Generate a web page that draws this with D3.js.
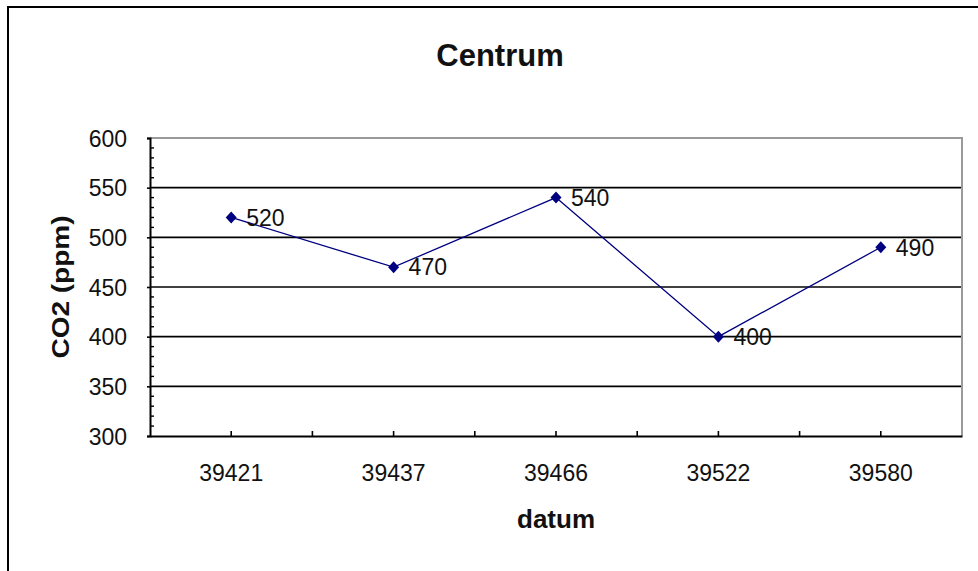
<!DOCTYPE html>
<html>
<head>
<meta charset="utf-8">
<script src="https://cdn.jsdelivr.net/npm/d3@7"></script>
<style>
  html, body { margin: 0; padding: 0; background: #fff; }
  svg { display: block; }
  text { font-family: "Liberation Sans", Arial, sans-serif; fill: #111; }
</style>
</head>
<body>
<svg id="chart" width="978" height="571"></svg>
<script>
// Measurement dates (Excel serial day numbers) and CO2 readings
const categories = ["39421", "39437", "39466", "39522", "39580"];
const co2Values = [520, 470, 540, 400, 490];
const yTicks = [300, 350, 400, 450, 500, 550, 600];

const svg = d3.select("#chart");
const W = 978, H = 571;
const plot = { left: 150, right: 962, top: 138, bottom: 436 };

// Outer chart frame (runs past the right and bottom edges)
svg.append("rect")
  .attr("x", 8).attr("y", 7)
  .attr("width", 1100).attr("height", 700)
  .attr("fill", "#fff")
  .attr("stroke", "#000").attr("stroke-width", 2);

const x = d3.scaleBand().domain(categories).range([plot.left, plot.right]).padding(0);
const y = d3.scaleLinear().domain([300, 600]).range([plot.bottom, plot.top]);

// Horizontal gridlines
svg.append("g").selectAll("line")
  .data(yTicks.filter(v => v > 300 && v < 600))
  .join("line")
  .attr("x1", plot.left).attr("x2", plot.right)
  .attr("y1", d => y(d)).attr("y2", d => y(d))
  .attr("stroke", "#000").attr("stroke-width", 1.6);

// Plot area border: grey top and right edges
svg.append("path")
  .attr("d", `M${plot.left},${y(600)}H${plot.right}V${plot.bottom}`)
  .attr("fill", "none").attr("stroke", "#9a9a9a").attr("stroke-width", 2);

// Y axis: major ticks outward, labels on the left
const yAxis = d3.axisLeft(y).tickValues(yTicks).tickSize(3).tickPadding(20).tickFormat(d3.format("d"));
const gy = svg.append("g").attr("transform", `translate(${plot.left},0)`).call(yAxis);
gy.select(".domain").attr("stroke", "#000").attr("stroke-width", 2);
gy.selectAll(".tick line").attr("stroke", "#000").attr("stroke-width", 1.6);
gy.selectAll(".tick text")
  .attr("font-family", "Liberation Sans, Arial, sans-serif")
  .attr("font-size", 23).attr("fill", "#111")
  .attr("dy", "0.36em");

// Y axis minor ticks (inside) every 10 units
const minor = d3.range(310, 600, 10).filter(v => v % 50 !== 0);
svg.append("g").selectAll("line")
  .data(minor)
  .join("line")
  .attr("x1", plot.left).attr("x2", plot.left + 4)
  .attr("y1", d => y(d)).attr("y2", d => y(d))
  .attr("stroke", "#000").attr("stroke-width", 1.4);

// X axis
const xAxis = d3.axisBottom(x).tickSize(0).tickPadding(0);
const gx = svg.append("g").attr("transform", `translate(0,${plot.bottom})`).call(xAxis);
gx.select(".domain").attr("stroke", "#000").attr("stroke-width", 2);
gx.selectAll(".tick text")
  .attr("font-family", "Liberation Sans, Arial, sans-serif")
  .attr("font-size", 23).attr("fill", "#111")
  .attr("y", 45).attr("dy", 0);

// X axis inward ticks at category centres and between categories
const xTickPos = [];
categories.forEach((c, i) => {
  xTickPos.push(x(c) + x.bandwidth() / 2);
  if (i > 0) xTickPos.push(x(c));
});
svg.append("g").selectAll("line")
  .data(xTickPos)
  .join("line")
  .attr("x1", d => d).attr("x2", d => d)
  .attr("y1", plot.bottom).attr("y2", plot.bottom - 5)
  .attr("stroke", "#000").attr("stroke-width", 1.6);

// Series line
const pts = categories.map((c, i) => ({ c, v: co2Values[i] }));
const cx = d => x(d.c) + x.bandwidth() / 2;
svg.append("path")
  .datum(pts)
  .attr("d", d3.line().x(cx).y(d => y(d.v)))
  .attr("fill", "none").attr("stroke", "#000080").attr("stroke-width", 1.3);

// Diamond markers
svg.append("g").selectAll("path")
  .data(pts)
  .join("path")
  .attr("d", d => `M${cx(d)},${y(d.v) - 6}L${cx(d) + 5.5},${y(d.v)}L${cx(d)},${y(d.v) + 6}L${cx(d) - 5.5},${y(d.v)}Z`)
  .attr("fill", "#000080");

// Value labels
svg.append("g").selectAll("text")
  .data(pts)
  .join("text")
  .attr("x", d => cx(d) + 15)
  .attr("y", d => y(d.v))
  .attr("dy", "0.36em")
  .attr("font-size", 23)
  .text(d => d.v);

// Title and axis titles
svg.append("text")
  .attr("x", 500).attr("y", 66)
  .attr("text-anchor", "middle")
  .attr("font-size", 31).attr("font-weight", "bold")
  .text("Centrum");

svg.append("text")
  .attr("x", (plot.left + plot.right) / 2).attr("y", 528)
  .attr("text-anchor", "middle")
  .attr("font-size", 26).attr("font-weight", "bold")
  .text("datum");

svg.append("text")
  .attr("transform", "translate(69,287) rotate(-90)")
  .attr("text-anchor", "middle")
  .attr("font-size", 23).attr("font-weight", "bold")
  .attr("textLength", 143).attr("lengthAdjust", "spacingAndGlyphs")
  .text("CO2 (ppm)");
</script>
</body>
</html>
